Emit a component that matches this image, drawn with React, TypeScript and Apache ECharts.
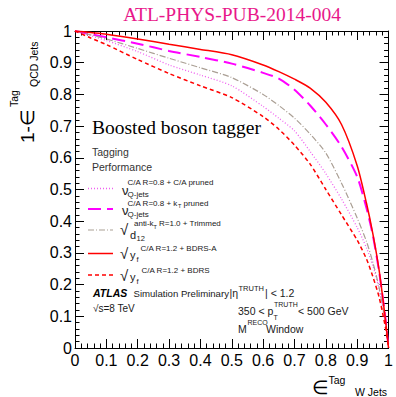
import React, { useEffect, useRef } from "react";
import * as echarts from "echarts";

// W-jet tagging efficiency (x) shared by all curves
const effW = [0, 0.05, 0.1, 0.2, 0.3, 0.4, 0.5, 0.6, 0.65, 0.7, 0.75, 0.8, 0.85, 0.9, 0.93, 0.95, 0.97, 0.99, 1];
// QCD-jet rejection (1 - efficiency) for each tagger
const rejQjetsCA = [1, 0.985, 0.97, 0.935, 0.893, 0.861, 0.827, 0.762, 0.725, 0.685, 0.62, 0.55, 0.47, 0.38, 0.315, 0.26, 0.185, 0.075, 0];
const rejQjetsKt = [1, 0.99, 0.98, 0.96, 0.937, 0.918, 0.897, 0.868, 0.85, 0.815, 0.765, 0.705, 0.635, 0.54, 0.44, 0.355, 0.24, 0.095, 0];
const rejD12Trimmed = [1, 0.988, 0.975, 0.945, 0.914, 0.884, 0.853, 0.8, 0.765, 0.725, 0.675, 0.615, 0.52, 0.41, 0.335, 0.27, 0.19, 0.08, 0];
const rejYfBdrsA = [1, 0.995, 0.99, 0.975, 0.958, 0.942, 0.925, 0.893, 0.872, 0.848, 0.82, 0.775, 0.705, 0.575, 0.455, 0.36, 0.245, 0.09, 0];
const rejYfBdrs = [1, 0.978, 0.957, 0.91, 0.866, 0.827, 0.79, 0.73, 0.69, 0.64, 0.58, 0.5, 0.42, 0.34, 0.28, 0.225, 0.16, 0.065, 0];

const SANS = "'Liberation Sans', Arial, Helvetica, sans-serif";
const SERIF = "'Liberation Serif', 'Times New Roman', serif";

const PINK = "#f060f0";
const MAGENTA = "#ff00ff";
const GREY = "#aa9f94";
const RED = "#ff0000";

type Dash = number[] | "solid";
const styles: { color: string; width: number; dash: Dash }[] = [
  { color: PINK, width: 1.3, dash: [1, 2] },
  { color: MAGENTA, width: 2, dash: [13, 6] },
  { color: GREY, width: 1.2, dash: [6, 2, 1, 2] },
  { color: RED, width: 1.5, dash: "solid" },
  { color: RED, width: 1.5, dash: [4, 3] },
];

const rejections = [rejQjetsCA, rejQjetsKt, rejD12Trimmed, rejYfBdrsA, rejYfBdrs];
const seriesNames = ["Q-jets C/A pruned", "Q-jets kT pruned", "d12 trimmed", "yf BDRS-A", "yf BDRS"];

function txt(text: string, x: number, y: number, size: number, extra: Record<string, any> = {}) {
  const { family = SANS, weight = "normal", italic = false, fill = "#1a1a1a", align = "left" } = extra;
  return {
    type: "text",
    x,
    y,
    silent: true,
    style: {
      text,
      font: `${italic ? "italic " : ""}${weight} ${size}px ${family}`,
      fill,
      align,
      verticalAlign: "middle",
      textAlign: align,
      textVerticalAlign: "middle",
    },
  };
}

function legendLine(y: number, s: (typeof styles)[number]) {
  return {
    type: "line",
    silent: true,
    shape: { x1: 88, y1: y, x2: 113, y2: y },
    style: { stroke: s.color, lineWidth: s.width, lineDash: s.dash === "solid" ? null : s.dash },
  };
}

export default function App() {
  const ref = useRef<HTMLDivElement>(null);

  useEffect(() => {
    if (!ref.current) return;
    const chart = echarts.init(ref.current, null, { renderer: "svg" });

    const axisCommon = {
      type: "value",
      min: 0,
      max: 1,
      interval: 0.1,
      splitLine: { show: false },
      axisLine: { show: true, onZero: false, lineStyle: { color: "#000", width: 1 } },
      axisTick: { show: true, inside: true, length: 9, lineStyle: { color: "#000", width: 1 } },
      minorTick: { show: true, splitNumber: 5, length: 4.5, lineStyle: { color: "#000", width: 1 } },
      minorSplitLine: { show: false },
    };
    const fmt = (v: number) => String(Math.round(v * 10) / 10);

    const graphic: any[] = [
      txt("ATL-PHYS-PUB-2014-004", 232, 14, 19.5, { family: SERIF, fill: "#e8178a", align: "center" }),
      txt("Boosted boson tagger", 92, 127, 19.5, { family: SERIF, fill: "#000" }),
      txt("Tagging", 92, 152, 10.5, { fill: "#333" }),
      txt("Performance", 92, 167, 10.5, { fill: "#333" }),

      legendLine(188.5, styles[0]),
      txt("\u03bd", 122, 190, 13),
      txt("C/A R=0.8 + C/A pruned", 127.5, 182.5, 8),
      txt("Q-jets", 127.5, 194, 8),

      legendLine(209, styles[1]),
      txt("\u03bd", 122, 210.5, 13),
      txt("C/A R=0.8 + k", 127.5, 203, 8),
      txt("T", 178, 206, 5.5),
      txt("pruned", 183.5, 203, 8),
      txt("Q-jets", 127.5, 214.5, 8),

      legendLine(230, styles[2]),
      txt("\u221a", 120, 229.5, 15),
      txt("d", 130, 235, 11),
      txt("12", 136.5, 238, 7.5),
      txt("anti-k", 134, 223.5, 8),
      txt("T", 153.5, 226.5, 5.5),
      txt("R=1.0 + Trimmed", 159, 223.5, 8),

      legendLine(253.5, styles[3]),
      txt("\u221a", 120, 253, 15),
      txt("y", 130, 255, 11),
      txt("f", 136.5, 259.5, 7.5),
      txt("C/A R=1.2 + BDRS-A", 140.5, 248.5, 8),

      legendLine(275, styles[4]),
      txt("\u221a", 120, 275, 15),
      txt("y", 130, 277, 11),
      txt("f", 136.5, 281.5, 7.5),
      txt("C/A R=1.2 + BDRS", 141.5, 270, 8),

      txt("ATLAS", 93, 293, 10.5, { weight: "bold", italic: true, fill: "#000" }),
      txt("Simulation Preliminary", 133.5, 293, 9.6),
      txt("|\u03b7", 229.5, 293, 10.5),
      txt("TRUTH", 238.5, 288.5, 7.5),
      txt("| < 1.2", 265, 293, 10.5),
      txt("\u221as=8 TeV", 93, 308.5, 10),
      txt("350 < p", 238, 311, 10.5),
      txt("T", 273.5, 317.5, 7),
      txt("TRUTH", 274, 304.5, 7),
      txt("< 500 GeV", 298, 311, 10.5),
      txt("M", 238, 328.5, 10.5),
      txt("RECO", 247.5, 322.5, 7),
      txt("Window", 266, 328.5, 10.5),

      // x-axis title
      txt("\u2208", 312, 387.5, 19, { fill: "#000" }),
      txt("Tag", 328.5, 379.5, 10.5, { fill: "#000" }),
      txt("W Jets", 355, 391.5, 10.5, { fill: "#000" }),

      // y-axis title, rotated to read bottom-to-top
      {
        type: "group",
        x: 27.5,
        y: 143,
        rotation: Math.PI / 2,
        silent: true,
        children: [
          txt("1-\u2208", 0, 0, 19, { fill: "#000" }),
          txt("Tag", 36, -13.5, 10.5, { fill: "#000" }),
          txt("QCD Jets", 56, 6.5, 10.5, { fill: "#000" }),
        ],
      },
    ];

    chart.setOption({
      animation: false,
      backgroundColor: "#fff",
      grid: { left: 75, right: 3, top: 31, bottom: 49, containLabel: false },
      xAxis: [
        {
          ...axisCommon,
          position: "bottom",
          axisLabel: { show: true, margin: 4, color: "#000", fontSize: 16, fontFamily: SANS, formatter: fmt },
        },
        { ...axisCommon, position: "top", axisLabel: { show: false } },
      ],
      yAxis: [
        {
          ...axisCommon,
          position: "left",
          axisLabel: { show: true, margin: 3, color: "#000", fontSize: 16, fontFamily: SANS, formatter: fmt },
        },
        { ...axisCommon, position: "right", axisLabel: { show: false } },
      ],
      series: rejections.map((rej, i) => ({
        name: seriesNames[i],
        type: "line",
        xAxisIndex: 0,
        yAxisIndex: 0,
        data: effW.map((x, k) => [x, rej[k]]),
        showSymbol: false,
        smooth: 0.25,
        clip: true,
        lineStyle: { color: styles[i].color, width: styles[i].width, type: styles[i].dash },
        z: 2 + i,
      })),
      graphic,
    });

    return () => chart.dispose();
  }, []);

  return (
    <div ref={ref} style={{ position: "fixed", left: 0, top: 0, width: 396, height: 397, background: "#fff" }} />
  );
}
